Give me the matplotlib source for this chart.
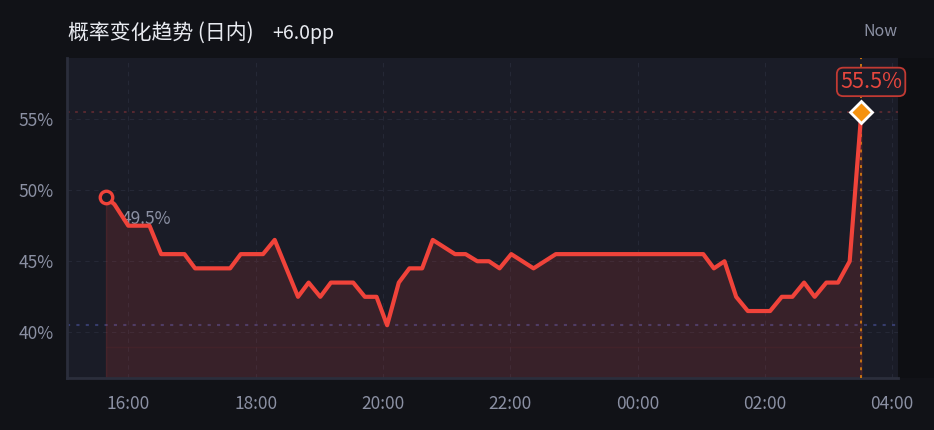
import matplotlib
matplotlib.use("Agg")
import matplotlib.pyplot as plt
from matplotlib.patches import Rectangle

# --- Dados ---
TIMES = [
    "15:39", "15:47", "16:00", "16:20", "16:31", "16:53", "17:03", "17:36",
    "17:46", "18:07", "18:18", "18:40", "18:50", "19:01", "19:11", "19:32",
    "19:43", "19:54", "20:04", "20:15", "20:25", "20:37", "20:47", "21:08",
    "21:18", "21:29", "21:40", "21:50", "22:01", "22:22", "22:43", "01:02",
    "01:12", "01:22", "01:33", "01:44", "02:05", "02:16", "02:26", "02:37",
    "02:47", "02:58", "03:09", "03:20", "03:31",
]
VALUES = [
    49.5, 49.0, 47.5, 47.5, 45.5, 45.5, 44.5, 44.5,
    45.5, 45.5, 46.5, 42.5, 43.5, 42.5, 43.5, 43.5,
    42.5, 42.5, 40.5, 43.5, 44.5, 44.5, 46.5, 45.5,
    45.5, 45.0, 45.0, 44.5, 45.5, 44.5, 45.5, 45.5,
    44.5, 45.0, 42.5, 41.5, 41.5, 42.5, 42.5, 43.5,
    42.5, 43.5, 43.5, 45.0, 55.5,
]
X_TICKS = [16, 18, 20, 22, 24, 26, 28]
X_TICK_LABELS = ["16:00", "18:00", "20:00", "22:00", "00:00", "02:00", "04:00"]
Y_TICKS = [40, 45, 50, 55]
TITLE = "概率变化趋势 (日内)"
CHANGE_TEXT = "+6.0pp"
NOW_TEXT = "Now"

# --- Estilo ---
BG       = "#111217"
PANEL    = "#1a1c27"
RED      = "#f0433a"
ORANGE   = "#f5920f"
MUTED    = "#8b90a3"
GRID     = "#252836"
SPINE    = "#2b2e3c"
Y_BOTTOM = 36.79

plt.rcParams["font.family"] = ["Noto Sans CJK SC", "DejaVu Sans"]


def to_hours(t):
    h, m = map(int, t.split(":"))
    if h < 12:  # depois da meia-noite
        h += 24
    return h + m / 60


def main():
    x = [to_hours(t) for t in TIMES]
    y = VALUES
    start, last = y[0], y[-1]
    low = min(y)

    fig = plt.figure(figsize=(9.34, 4.30), dpi=100, facecolor=BG)
    ax = fig.add_axes([0.0717, 0.1209, 0.8898, 0.7442])
    ax.set_facecolor(PANEL)

    ax.set_xlim(15.037, 28.093)
    ax.set_ylim(Y_BOTTOM, 59.29)

    # margem direita um pouco mais escura
    fig.patches.append(Rectangle((0.9615, 0.1209), 0.0385, 0.7442,
                                 transform=fig.transFigure,
                                 facecolor="#0e0f13", edgecolor="none", zorder=-1))

    ax.grid(True, color=GRID, linestyle=(0, (4, 4)), linewidth=0.8)
    ax.set_axisbelow(True)

    ax.fill_between(x, y, Y_BOTTOM, facecolor=RED, alpha=0.14,
                    edgecolor=RED, linewidth=1.0, zorder=2)
    # costura do gradiente
    ax.hlines(39.0, x[0], x[-1], color=RED, alpha=0.06, linewidth=1.0, zorder=2)

    ax.axhline(last, color="#5c2a31", linestyle=(0, (1.5, 3)), linewidth=1.3, zorder=1)
    ax.axhline(low, color="#363c6c", linestyle=(0, (1.5, 3)), linewidth=1.5, zorder=1)
    ax.axvline(x[-1], color="#c97411", linestyle=(0, (1.5, 2.5)), linewidth=1.4, zorder=3)

    ax.annotate(f"{start:.1f}%", (x[0], start), xytext=(11.5, -15.8),
                textcoords="offset points", color=MUTED, fontsize=12.5,
                ha="left", va="center", zorder=3)

    ax.plot(x, y, color=RED, linewidth=3.0, solid_joinstyle="round", zorder=4)
    ax.plot(x[0], start, "o", markersize=9, markerfacecolor=PANEL,
            markeredgecolor=RED, markeredgewidth=2.4, zorder=5)
    ax.plot(x[-1], last, "D", markersize=11, markerfacecolor=ORANGE,
            markeredgecolor="white", markeredgewidth=2, zorder=5)

    ax.annotate(f"{last:.1f}%", (x[-1], last), xytext=(7, 21.6),
                textcoords="offset points", color="#e8473e", fontsize=15.5,
                ha="center", va="center", zorder=6, annotation_clip=False,
                bbox=dict(boxstyle="round,pad=0.15,rounding_size=0.3",
                          facecolor=PANEL, edgecolor="#c23a33", linewidth=1.3))

    ax.set_xticks(X_TICKS)
    ax.set_xticklabels(X_TICK_LABELS)
    ax.set_yticks(Y_TICKS)
    ax.set_yticklabels([f"{v}%" for v in Y_TICKS])
    ax.tick_params(length=0, colors=MUTED, labelsize=12.5)
    ax.tick_params(axis="x", pad=12)
    ax.tick_params(axis="y", pad=9.5)

    for side in ("top", "right"):
        ax.spines[side].set_visible(False)
    for side in ("left", "bottom"):
        ax.spines[side].set_color(SPINE)
        ax.spines[side].set_linewidth(2)

    fig.text(68 / 934, 1 - 33 / 430, TITLE, color="#e8eaf0", fontsize=15,
             ha="left", va="center")
    fig.text(272 / 934, 1 - 33 / 430, CHANGE_TEXT, color="#e8eaf0", fontsize=14,
             ha="left", va="center")
    fig.text(897 / 934, 1 - 31 / 430, NOW_TEXT, color=MUTED, fontsize=11.5,
             ha="right", va="center")

    fig.savefig("out.png", dpi=100, facecolor=BG)


if __name__ == "__main__":
    main()
